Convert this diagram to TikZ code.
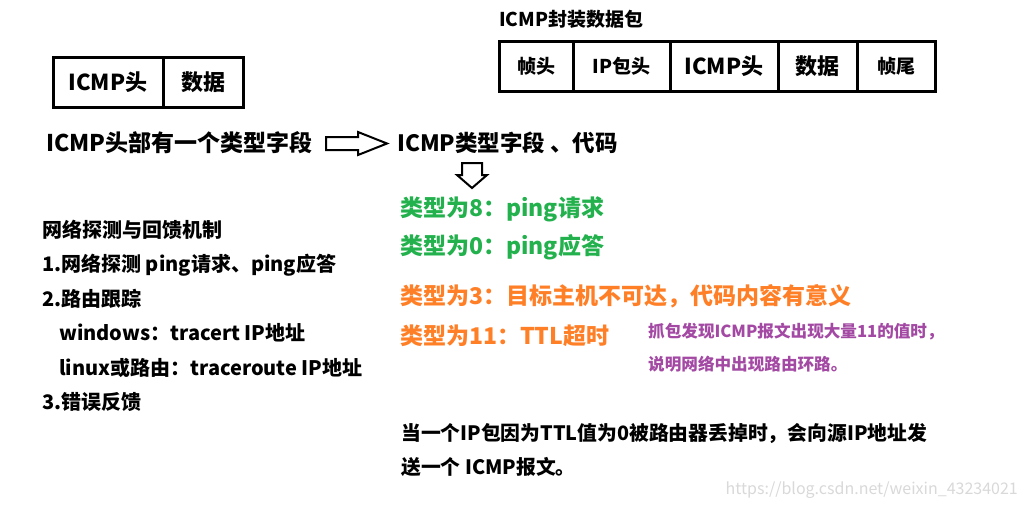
\documentclass[tikz,border=0pt]{standalone}
\usepackage{fontspec}
\setmainfont{Noto Sans CJK SC}
\usepackage{tikz}
\usetikzlibrary{positioning}

\definecolor{typegreen}{RGB}{34,177,76}
\definecolor{typeorange}{RGB}{255,127,39}
\definecolor{notepurple}{RGB}{163,73,164}

\tikzset{
  cell/.style={draw, line width=3pt, minimum height=50pt, inner sep=0pt},
  bigtxt/.style={font=\bfseries\fontsize{22}{24}\selectfont},
  smalltxt/.style={font=\bfseries\fontsize{19}{21}\selectfont},
  line/.style={anchor=west, inner sep=0pt, font=\bfseries\fontsize{#1}{#1}\selectfont},
  hollow/.style={draw, line width=2pt, fill=white, line join=miter}
}

\begin{document}
\begin{tikzpicture}[x=1pt,y=-1pt]
  \useasboundingbox[fill=white] (0,0) rectangle (1024,509);

  % ICMP message
  \node[cell, bigtxt, minimum width=110pt] (icmphead) at (108,82) {ICMP头};
  \node[cell, bigtxt, minimum width=80pt]  (icmpdata) at (203,82) {数据};

  % encapsulated frame
  \node[line=19] (frametitle) at (499,19) {ICMP封装数据包};
  \node[cell, smalltxt, minimum width=74pt]  (fhead)  at (536,66)   {帧头};
  \node[cell, smalltxt, minimum width=97pt]  (iphead) at (621.5,66) {IP包头};
  \node[cell, bigtxt,   minimum width=108pt] (fhicmp) at (724,66)   {ICMP头};
  \node[cell, bigtxt,   minimum width=79pt]  (fdata)  at (817.5,66) {数据};
  \node[cell, smalltxt, minimum width=78pt]  (ftail)  at (896,66)   {帧尾};

  % type field
  \node[line=23] (hasfield) at (46,143) {ICMP头部有一个类型字段};
  \node[line=22.5] (typecode) at (397,143) {ICMP类型字段 、代码};
  \draw[hollow] (326,137) -- (358,137) -- (358,132) -- (387,143.5)
    -- (358,155) -- (358,150) -- (326,150) -- cycle;
  \draw[hollow] (462,163) -- (482,163) -- (482,175) -- (487,175) -- (472,188)
    -- (457,175) -- (462,175) -- cycle;

  % type values
  \node[line=23, text=typegreen]  (type8)  at (400,209) {类型为8：ping请求};
  \node[line=23, text=typegreen]  (type0)  at (400,247) {类型为0：ping应答};
  \node[line=23, text=typeorange] (type3)  at (400,296) {类型为3：目标主机不可达，代码内容有意义};
  \node[line=23, text=typeorange] (type11) at (400,336) {类型为11：TTL超时};
  \node[line=16.6, text=notepurple] (loop1) at (648,332) {抓包发现ICMP报文出现大量11的值时，};
  \node[line=16.6, text=notepurple] (loop2) at (648,364) {说明网络中出现路由环路。};

  % mechanisms
  \node[line=20] (mech)  at (42,230) {网络探测与回馈机制};
  \node[line=20] (mech1) at (42,265) {1.网络探测 ping请求、ping应答};
  \node[line=20] (mech2) at (42,299) {2.路由跟踪};
  \node[line=20] (win)   at (59,333) {windows：tracert IP地址};
  \node[line=20] (lnx)   at (59,368) {linux或路由：traceroute IP地址};
  \node[line=20] (mech3) at (42,402) {3.错误反馈};

  % ttl note
  \node[line=19.8] (ttl1) at (401,433) {当一个IP包因为TTL值为0被路由器丢掉时，会向源IP地址发};
  \node[line=19.8] (ttl2) at (401,467) {送一个 ICMP报文。};

  \node[anchor=east, inner sep=0pt, text=gray!30, font=\fontsize{16}{16}\selectfont]
    (mark) at (1018,490) {https://blog.csdn.net/weixin\_43234021};
\end{tikzpicture}
\end{document}
